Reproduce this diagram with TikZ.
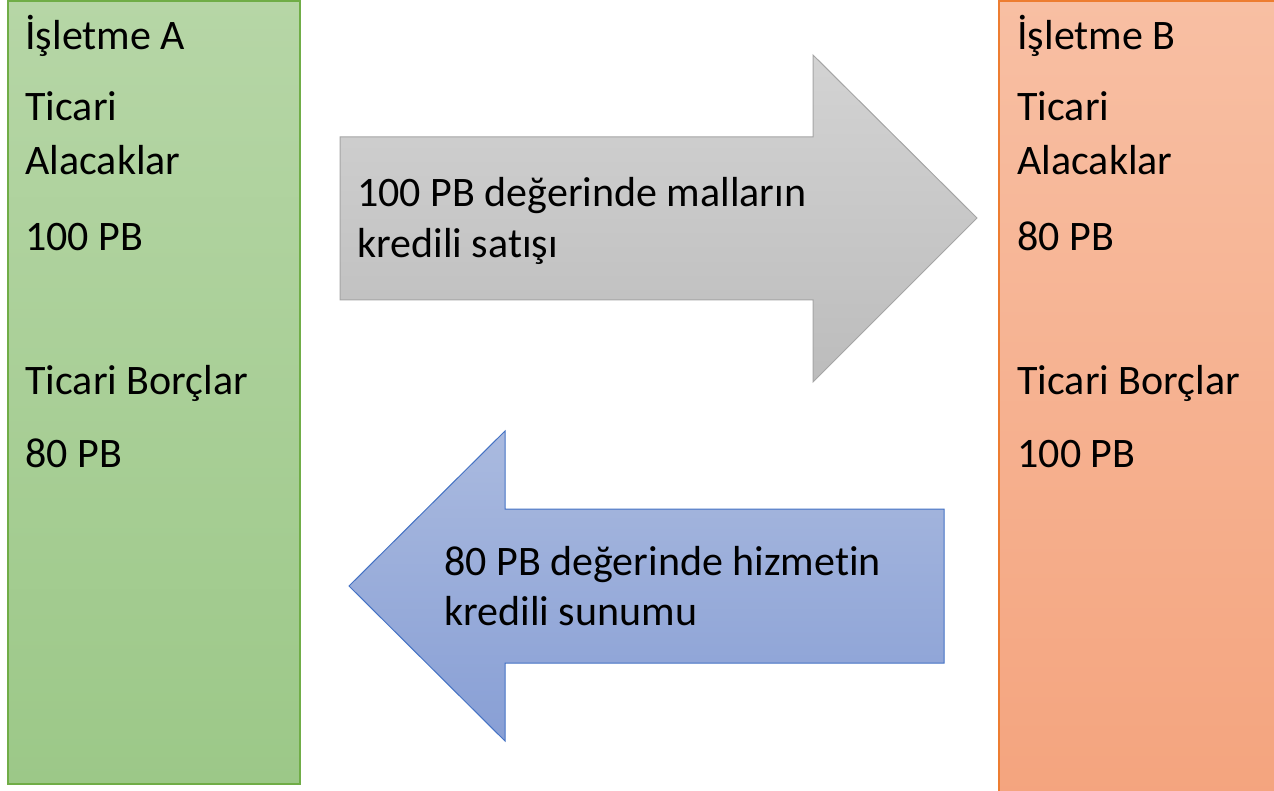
\documentclass[tikz,border=0pt]{standalone}
\usepackage{fontspec}
\setmainfont[Ligatures=NoCommon]{Carlito}
\definecolor{grtop}{HTML}{B6D6A6}
\definecolor{grbot}{HTML}{9CC888}
\definecolor{grline}{HTML}{70AD47}
\definecolor{ortop}{HTML}{F8BFA3}
\definecolor{orbot}{HTML}{F4A47E}
\definecolor{orline}{HTML}{ED7D31}
\definecolor{gytop}{HTML}{D3D3D3}
\definecolor{gybot}{HTML}{BCBCBC}
\definecolor{gyline}{HTML}{A5A5A5}
\definecolor{bltop}{HTML}{AABADF}
\definecolor{blbot}{HTML}{889FD5}
\definecolor{blline}{HTML}{4472C4}

\begin{document}
\begin{tikzpicture}[x=0.5pt,y=-0.5pt,
  txt/.style={anchor=base west,inner sep=0pt,font=\fontsize{21}{25}\selectfont}]
\useasboundingbox (0,0) rectangle (1274,791);
\clip (0,0) rectangle (1274,791);

% the two firms
\draw[grline, line width=1pt, top color=grtop, bottom color=grbot]
      (8,1) rectangle (300,784);
\draw[orline, line width=1pt, top color=ortop, bottom color=orbot]
      (999,1) rectangle (1285,800);

% block arrows
\draw[gyline, line width=0.5pt, top color=gytop, bottom color=gybot]
      (340,137) -- (813,137) -- (813,55) -- (977,218) -- (813,382)
      -- (813,300) -- (340,300) -- cycle;
\draw[blline, line width=0.5pt, top color=bltop, bottom color=blbot]
      (944,509) -- (505,509) -- (505,431) -- (349,586) -- (505,741)
      -- (505,663) -- (944,663) -- cycle;

% Firm A
\node[txt] (a1) at (25,50) {İşletme A};
\node[txt] (a2) at (25,121) {Ticari};
\node[txt] (a3) at (25,175) {Alacaklar};
\node[txt] (a4) at (25,250) {100 PB};
\node[txt] (a5) at (25,394) {Ticari Borçlar};
\node[txt] (a6) at (25,467) {80 PB};

% Firm B
\node[txt] (b1) at (1017,50) {İşletme B};
\node[txt] (b2) at (1017,121) {Ticari};
\node[txt] (b3) at (1017,175) {Alacaklar};
\node[txt] (b4) at (1017,250) {80 PB};
\node[txt] (b5) at (1017,394) {Ticari Borçlar};
\node[txt] (b6) at (1017,467) {100 PB};

% arrow labels
\node[txt] (sale1) at (357,207) {100 PB değerinde malların};
\node[txt] (sale2) at (357,257) {kredili satışı};
\node[txt] (serv1) at (444,575) {80 PB değerinde hizmetin};
\node[txt] (serv2) at (444,625) {kredili sunumu};

\end{tikzpicture}
\end{document}
